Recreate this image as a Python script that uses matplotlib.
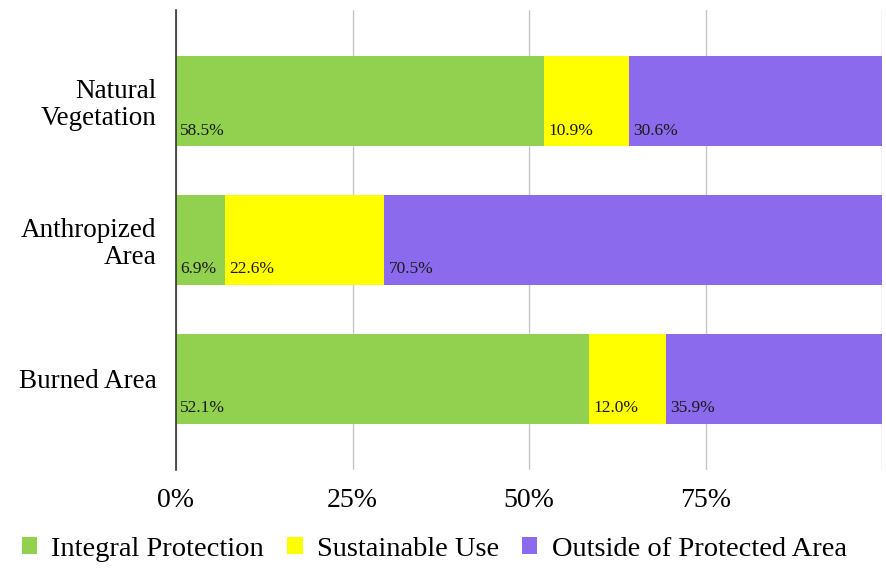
import matplotlib
matplotlib.use("Agg")
import matplotlib.pyplot as plt
import numpy as np

plt.rcParams["font.family"] = ["Liberation Serif", "DejaVu Serif"]

# Data
categories = ["Natural\nVegetation", "Anthropized\nArea", "Burned Area"]
series_names = ["Integral Protection", "Sustainable Use", "Outside of Protected Area"]
# bar lengths (%)
integral = [52.1, 6.9, 58.5]
sustainable = [12.0, 22.6, 10.9]
outside = [35.9, 70.5, 30.6]
# printed labels (%), as shown in the reference
integral_lbl = [58.5, 6.9, 52.1]
sustainable_lbl = [10.9, 22.6, 12.0]
outside_lbl = [30.6, 70.5, 35.9]
x_ticks = [0, 25, 50, 75]
x_ticklabels = ["0%", "25%", "50%", "75%"]

colors = ["#92D050", "#FFFF00", "#8B6AEE"]

fig = plt.figure(figsize=(8.86, 5.70), dpi=100)
ax = fig.add_axes([176 / 886, 1 - 470 / 570, 706 / 886, 460 / 570])

y = np.arange(len(categories))
values = [integral, sustainable, outside]
labels = [integral_lbl, sustainable_lbl, outside_lbl]
left = np.zeros(len(categories))
for vals, lbls, col, name in zip(values, labels, colors, series_names):
    ax.barh(y, vals, left=left, height=0.65, color=col, label=name, zorder=2)
    for yi, l0, lb in zip(y, left, lbls):
        ax.annotate(f"{lb:.1f}%", (l0, yi + 0.21), xytext=(3, 0), textcoords="offset points",
                    ha="left", va="center", fontsize=12.5, color="#1a1a1a", zorder=3)
    left = left + np.array(vals)

ax.set_xlim(0, 100)
ax.set_ylim(2.66, -0.66)
ax.set_yticks(y)
ax.set_yticklabels(categories, fontsize=19.5, ha="right", multialignment="right",
                   linespacing=1.1)
ax.set_xticks(x_ticks + [100])
ax.set_xticklabels(x_ticklabels + [""], fontsize=20)
ax.tick_params(axis="both", length=0)
ax.tick_params(axis="x", pad=13)
ax.tick_params(axis="y", pad=14)
ax.grid(axis="x", color="#c8c8c8", linewidth=1, zorder=0)
for s in ["top", "right", "bottom"]:
    ax.spines[s].set_visible(False)
ax.spines["left"].set_color("#333333")
ax.spines["left"].set_linewidth(1.2)
ax.spines["left"].set_zorder(4)

fig.legend(loc="center", bbox_to_anchor=(0.49, 1 - 549 / 570), ncol=3, frameon=False,
           fontsize=20.5, handlelength=0.55, handleheight=0.55, handletextpad=0.5,
           columnspacing=0.8)

fig.savefig("out.png", dpi=100)
